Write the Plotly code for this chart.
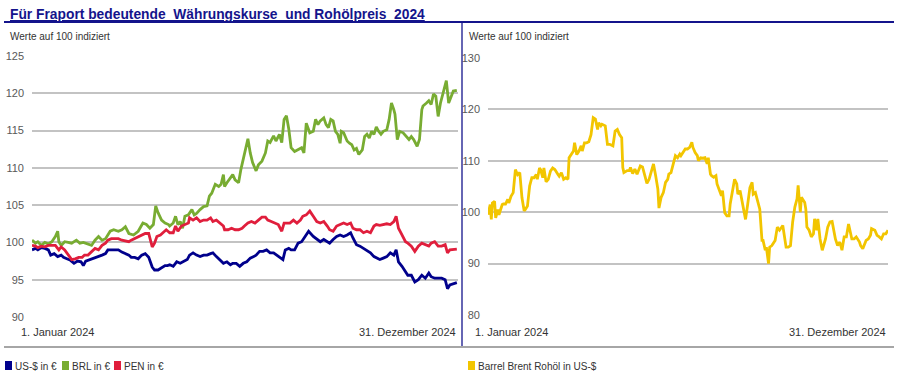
import plotly.graph_objects as go
from datetime import date, timedelta

# ---------------- data (days since 1 Jan 2024, index values) ----------------
usd_days = [0, 3, 5, 8, 11, 14, 16, 19, 22, 25, 27, 30, 33, 36, 39, 42, 44, 46, 48, 51,
            54, 57, 60, 63, 65, 68, 71, 74, 77, 80, 83, 85, 88, 91, 94, 97, 100, 103, 105, 108,
            111, 114, 116,
            118, 121, 124, 127, 130, 133, 135, 138, 141, 144, 147, 150, 153, 155, 158, 161, 164, 167, 170, 172,
            175, 178, 181, 184, 187, 190, 192, 195, 198, 201, 204, 207, 210, 212, 215, 217, 220, 222, 225, 228,
            231, 234, 237,
            241, 244, 247, 250, 253, 255, 258, 261, 264, 267, 270, 273, 275, 278, 281, 284, 287, 290, 293, 295,
            298, 301, 304, 307, 310, 312, 314, 317, 320, 322, 325, 328, 331, 334, 337, 340, 342, 345, 348, 351,
            354, 356, 358, 361, 364]
usd_vals = [99, 99.2, 99, 99.3, 99.2, 99, 98.3, 98.5, 98.1, 98.3, 98, 97.8, 97.6, 97.2, 97.5, 97.4, 96.9, 97.5, 97.6, 97.8,
            98, 98.1, 98.3, 98.5, 99, 99, 99, 99, 98.7, 98.5, 98.3, 98, 98, 97.8, 98.3, 98.5, 98, 96.7, 96.3, 96.3,
            96.6, 96.9, 96.9,
            97, 96.8, 97.4, 97.2, 97.4, 97.7, 98.3, 98.6, 98.3, 98.1, 98.3, 98.3, 98.5, 98.6, 98.1, 97.7, 97.2, 97.4, 97, 97.2,
            97.2, 96.8, 97.2, 97.4, 97.9, 98.1, 98.3, 98.8, 98.8, 99, 98.6, 98.6, 98.3, 98.1, 97.7, 99, 99.2, 99, 99, 99.9,
            100.1, 100.8, 101.5,
            100.8, 100.4, 100.1, 100.4, 100.1, 99.9, 100.4, 100.8, 101, 100.8, 101, 101.3, 100.6, 99.7, 99.5, 99.2, 98.8, 98.6, 98.1, 97.9,
            97.7, 97.9, 98.1, 98.6, 98.3, 99, 97.4, 96.8, 96.1, 95.6, 95.6, 94.7, 95, 95.6, 95.2, 95.9, 95.4, 95.2, 95.2, 95.2,
            95, 93.8, 94.3, 94.5, 94.6]

brl_days = [0, 3, 5, 8, 11, 14, 17, 20, 22, 23, 25, 28, 31, 34, 38, 41, 44, 48, 51, 54,
            57, 60, 63, 67, 70, 74, 77, 80, 83, 87, 91, 95, 98, 101, 104, 106, 108, 111, 114, 117,
            118, 121, 123, 125, 127, 129, 131, 134, 137, 139, 141, 144, 147, 150, 152, 154, 157, 160, 162, 164,
            165, 167, 170, 172, 174, 177, 179, 182, 185, 187, 189, 192, 194, 197, 200, 202, 204, 207, 209, 212,
            214, 216, 218, 220, 222, 225, 228, 231, 233, 235,
            238, 241, 243, 245, 247, 250, 252, 254, 256, 258, 260, 262, 264, 265, 267, 270, 272, 274, 276, 278,
            280, 283, 285, 287, 289, 291, 293, 295, 297, 299, 301, 304, 306, 308, 310, 311, 313, 315, 318, 321,
            323, 325, 327, 330, 332, 334, 335, 338, 340, 342, 344, 346, 348, 350, 352, 355, 357, 359, 361, 364]
brl_vals = [100.3, 99.9, 100.1, 99.6, 100, 99.8, 100.1, 100.8, 101.5, 100.1, 99.6, 100.1, 100, 99.9, 100.3, 99.9, 100, 99.8, 99.6, 100.3,
            100.8, 100.3, 100.5, 101.5, 101.7, 101.5, 101.7, 102.1, 101.2, 101, 101.5, 102.6, 102.4, 101.9, 102.4, 104.9, 104, 103, 102.6, 102.4,
            102.2, 102.6, 103.5, 102.4, 102.8, 101.9, 103.5, 103.7, 104.4, 103.7, 103.9, 104.4, 104.8, 104.9, 106.2, 106.6, 107.8, 107.5, 107.8, 109.1,
            107.5, 108, 108.7, 109.1, 108.4, 108, 109.8, 112, 113.9, 112, 110.7, 109.6, 110.4, 110.9, 112, 113.6, 113.4, 114.3, 113.6, 114.5,
            113.4, 116.5, 117, 115.2, 112.7, 112.2, 112.5, 112.7, 112, 116,
            114.7, 114.9, 116.5, 115.8, 116.3, 116.7, 115.8, 115.4, 116.5, 116.3, 114.9, 114.5, 113.3, 114.9, 114.7, 113.6, 113.3, 113.1, 112.4, 112.6,
            111.8, 112.4, 114.2, 114.5, 114, 114.9, 114.5, 115.5, 114.9, 114.5, 114.9, 115.1, 116.5, 118.7, 117.8, 117.2, 113.8, 114.9, 114.7, 114.2,
            113.8, 114.2, 113.8, 112.9, 113.8, 117.8, 118.3, 118.7, 119, 118.5, 119.9, 119.6, 116.9, 118.7, 119.9, 121.7, 118.7, 119.6, 120.3, 120.4]

pen_days = [0, 3, 5, 8, 11, 14, 17, 20, 23, 25, 28, 31, 34, 37, 40, 43, 45, 48, 51, 54,
            57, 60, 63, 65, 68, 71, 74, 77, 80, 83, 85, 88, 91, 94, 97, 100, 103, 105, 107, 110,
            113, 115,
            118, 121, 123, 125, 128, 131, 134, 135, 138, 141, 144, 147, 150, 153, 155, 158, 161, 164, 165, 168,
            171, 174, 177, 180, 182, 185, 188, 191, 194, 197, 200, 202, 205, 208, 211, 214, 216, 218, 221, 224,
            227, 230, 232, 235, 238,
            241, 244, 247, 250, 253, 255, 258, 261, 264, 267, 270, 273, 275, 278, 281, 284, 287, 290, 293, 295,
            298, 301, 304, 307, 310, 312, 314, 317, 320, 322, 325, 328, 331, 334, 337, 340, 342, 345, 348, 351,
            354, 356, 358, 361, 364]
pen_vals = [99.6, 99.5, 99.3, 99.5, 99.4, 99.6, 99.6, 99.6, 99, 99.4, 99, 98.3, 97.7, 97.8, 98, 98, 98.3, 98.3, 98.7, 99.2,
            99, 99.6, 99.9, 100.3, 100.5, 100.5, 100.5, 100.3, 100.2, 100.1, 100.3, 100.5, 100.8, 101, 101.2, 101.2, 99.4, 99.9, 100.8, 101,
            101.5, 101.7,
            101.3, 101.3, 102.2, 101.5, 102.2, 102.4, 102.6, 103.3, 103, 103.3, 102.8, 103, 103, 103.3, 102.8, 103, 102.6, 102.2, 101.7, 101.7,
            101.9, 101.7, 101.7, 101.9, 102.2, 102.6, 102.8, 102.6, 103, 103.4, 103.4, 103, 102.8, 102.6, 102.4, 101.5, 102.6, 102.6, 102.6, 103,
            102.6, 103, 103.5, 103.7, 104.2,
            103.5, 102.8, 102.6, 102.8, 102.2, 101.7, 101.5, 102.2, 102.4, 102.6, 102.4, 102.6, 101.9, 101.7, 101.7, 101.3, 101.5, 101.3, 102.2, 102.4,
            102.3, 102.4, 102.5, 102.4, 102.8, 103.5, 101.9, 101, 100.1, 99.9, 99.5, 98.8, 99.5, 99.9, 99.7, 99.5, 99.9, 100.1, 99.5, 99.5,
            99.7, 98.6, 99, 99, 99.1]

brent_days = [0, 2, 3, 4, 6, 7, 9, 10, 13, 14, 16, 18, 19, 21, 23, 25, 27, 29, 31, 33,
              34, 36, 38, 40, 42, 44, 45, 47, 48, 50, 51, 53, 55, 57, 59, 61, 64, 65, 67, 69,
              71, 73, 74, 76, 78, 79, 81, 83, 85, 86, 88, 90, 92, 94, 96, 98, 100, 101, 103, 104,
              107, 109, 111, 114, 116, 118, 120,
              122, 123, 124, 127, 129, 130, 132, 134, 136, 137, 139, 141, 143, 145, 147, 149, 151, 153, 155, 156,
              158, 160, 162, 164, 165, 167, 169, 171, 173, 175, 176, 178, 180, 182, 184, 186, 187, 189, 191, 192,
              194, 196, 198, 200, 201, 203, 204, 206, 208, 209, 211, 213, 214, 216, 218, 220, 221, 223, 225, 227,
              228, 230, 232, 234, 235, 237, 239, 241, 242, 244, 246,
              247, 248, 250, 251, 253, 254, 256, 257, 259, 262, 264, 266, 269, 270, 272, 274, 276, 278, 280, 282,
              283, 285, 286, 289, 290, 291, 293, 295, 297, 298, 300, 301, 303, 305, 308, 310, 312, 314, 317, 319,
              321, 323, 325, 327, 329, 332, 334, 336, 339, 340, 342, 345, 347, 349, 350, 353, 355, 357, 359, 361,
              363, 365]
brent_vals = [99.5, 101.5, 98.6, 101.8, 102.1, 98.9, 100.5, 99.5, 101.5, 101.6, 101.6, 102.5, 101.8, 103.1, 103.8, 108.3, 107.3, 107.7, 102.8, 100.3,
              100.5, 101.2, 105.1, 106.7, 106.7, 107.3, 106.4, 108.6, 108.3, 106.7, 108.6, 105.9, 106.4, 108, 108.6, 108.3, 107.3, 107, 107.7, 106.4,
              106.7, 106.4, 110.6, 111.2, 111.9, 113.5, 111.2, 111.9, 112.9, 111.9, 113.5, 113.5, 113.7, 115.1, 118.4, 118.1, 116.1, 117.4, 116.8, 117.1,
              116.8, 113.2, 113.2, 112.9, 115.8, 116.1, 115.1,
              114.5, 108.7, 107.7, 108.1, 108.1, 108.7, 107.5, 108.4, 107.4, 108.1, 109, 108.8, 107.4, 105.6, 106.4, 108.1, 109.4, 107.1, 104.5, 100.8,
              102.9, 103.8, 105.8, 106.4, 107.4, 107.7, 109.4, 111, 110.6, 111.3, 111, 111.6, 112.3, 112.3, 112.6, 113.6, 112.6, 111.6, 111, 110,
              110.6, 110.5, 110.6, 109.4, 110.6, 107.4, 107.1, 106.8, 107.1, 105.5, 104.5, 103.2, 104.2, 99.9, 99.3, 99.3, 101.6, 104.2, 106.4, 105.5,
              103.5, 104.2, 101.9, 100.3, 98.6, 101.6, 104.8, 105.8, 103.5, 103.8, 102.2,
              101.9, 100.6, 94.5, 94.5, 92.6, 93.2, 90, 93.2, 93.5, 94.5, 97.1, 96.5, 97.4, 96.1, 93.2, 93.2, 93.5, 98.1, 101, 102.6,
              105.2, 100, 102.9, 101.9, 100.6, 97.1, 96.5, 95.2, 95.8, 98.7, 96.5, 98.7, 94.8, 92.6, 94.8, 97.1, 98.1, 98.2, 94.8, 93.5,
              94.2, 92.6, 95.2, 95.2, 97.7, 94.8, 94.8, 95.2, 94.2, 93.5, 92.9, 94.5, 94.8, 95.5, 96.8, 96.5, 95.5, 95.2, 94.8, 95.8,
              95.8, 96.5]

left_ticks = [90, 95, 100, 105, 110, 115, 120, 125]
right_ticks = [80, 90, 100, 110, 120, 130]
series_names = ["US-$ in €", "BRL in €", "PEN in €"]
brent_name = "Barrel Brent Rohöl in US-$"
title_text = "Für Fraport bedeutende\u00a0 Währungskurse\u00a0 und Rohölpreis\u00a0 2024"
subtitle_text = "Werte auf 100 indiziert"
start_label = "1. Januar 2024"
end_label = "31. Dezember 2024"

for d, v in [(usd_days, usd_vals), (brl_days, brl_vals), (pen_days, pen_vals), (brent_days, brent_vals)]:
    assert len(d) == len(v), (len(d), len(v))

# ---------------- styling ----------------
BASE = date(2024, 1, 1)
END = date(2024, 12, 31)
W, H = 900, 378
FONT = "Arial, Liberation Sans, sans-serif"
C_USD, C_BRL, C_PEN, C_BRENT = "#00008C", "#78AC32", "#E01E3C", "#F2C500"
NAVY = "#14148C"
GRID = "#C3C3C3"


def px(x):
    return x / W


def py(y):
    return 1 - y / H


def to_dates(days):
    return [BASE + timedelta(days=d) for d in days]


fig = go.Figure()
for days, vals, col, name in [(usd_days, usd_vals, C_USD, series_names[0]),
                              (brl_days, brl_vals, C_BRL, series_names[1]),
                              (pen_days, pen_vals, C_PEN, series_names[2])]:
    fig.add_trace(go.Scatter(x=to_dates(days), y=vals, mode="lines", name=name,
                             line=dict(color=col, width=2.8), xaxis="x", yaxis="y",
                             showlegend=False, hoverinfo="skip"))
fig.add_trace(go.Scatter(x=to_dates(brent_days), y=brent_vals, mode="lines", name=brent_name,
                         line=dict(color=C_BRENT, width=2.8), xaxis="x2", yaxis="y2",
                         showlegend=False, hoverinfo="skip"))

xcommon = dict(type="date", range=[BASE, END], showticklabels=False, showgrid=False,
               zeroline=False, showline=False, ticks="", fixedrange=True, automargin=False)
ycommon = dict(gridcolor=GRID, gridwidth=1.5, zeroline=False, showline=False, ticks="",
               tickfont=dict(family=FONT, size=11, color="#595959"), ticklabelstandoff=7,
               fixedrange=True, automargin=False)

fig.update_layout(
    template="none",
    width=W, height=H, margin=dict(l=0, r=0, t=0, b=0, pad=0, autoexpand=False),
    paper_bgcolor="white", plot_bgcolor="white",
    font=dict(family=FONT, size=11, color="#333333"),
    xaxis=dict(domain=[px(32), px(458)], anchor="y", **xcommon),
    yaxis=dict(domain=[py(317), py(56)], range=[left_ticks[0], left_ticks[-1]],
               tickvals=left_ticks, anchor="x", **ycommon),
    xaxis2=dict(domain=[px(488), px(888)], anchor="y2", **xcommon),
    yaxis2=dict(domain=[py(315), py(58)], range=[right_ticks[0], right_ticks[-1]],
                tickvals=right_ticks, anchor="x2", **ycommon),
    showlegend=False,
)

ann = []
ann.append(dict(x=px(8), y=py(15), xref="paper", yref="paper", xanchor="left", yanchor="middle",
                text="<b><u>" + title_text + "</u></b>", showarrow=False,
                font=dict(family=FONT, size=13.8, color=NAVY)))
for xx in (8, 467):
    ann.append(dict(x=px(xx), y=py(36), xref="paper", yref="paper", xanchor="left", yanchor="middle",
                    text=subtitle_text, showarrow=False, font=dict(family=FONT, size=10, color="#333333")))
for xl, xr in ((19, 458), (473, 888)):
    ann.append(dict(x=px(xl), y=py(332), xref="paper", yref="paper", xanchor="left", yanchor="middle",
                    text=start_label, showarrow=False, font=dict(family=FONT, size=11, color="#333333")))
    ann.append(dict(x=px(xr), y=py(332), xref="paper", yref="paper", xanchor="right", yanchor="middle",
                    text=end_label, showarrow=False, font=dict(family=FONT, size=11, color="#333333")))

shapes = []
# title rule, divider, bottom rule
shapes.append(dict(type="line", xref="paper", yref="paper", x0=px(4), x1=px(894), y0=py(22), y1=py(22),
                   line=dict(color=NAVY, width=2)))
shapes.append(dict(type="line", xref="paper", yref="paper", x0=px(462), x1=px(462), y0=py(22), y1=py(347),
                   line=dict(color=NAVY, width=1.3)))
shapes.append(dict(type="line", xref="paper", yref="paper", x0=px(4), x1=px(894), y0=py(347), y1=py(347),
                   line=dict(color="#A6A6A6", width=2)))

# legend entries (colored square + text)
legend_items = [(5, C_USD, series_names[0]), (62, C_BRL, series_names[1]), (114, C_PEN, series_names[2]),
                (468, C_BRENT, brent_name)]
for xx, col, name in legend_items:
    shapes.append(dict(type="rect", xref="paper", yref="paper", x0=px(xx), x1=px(xx + 7),
                       y0=py(370), y1=py(361), fillcolor=col, line=dict(width=0)))
    ann.append(dict(x=px(xx + 7.5), y=py(366), xref="paper", yref="paper", xanchor="left", yanchor="middle",
                    text=name, showarrow=False, font=dict(family=FONT, size=10, color="#333333")))

fig.update_layout(annotations=ann, shapes=shapes)

fig.write_html("out.html", config={"displayModeBar": False},
               post_script="document.body.style.margin='0';")
